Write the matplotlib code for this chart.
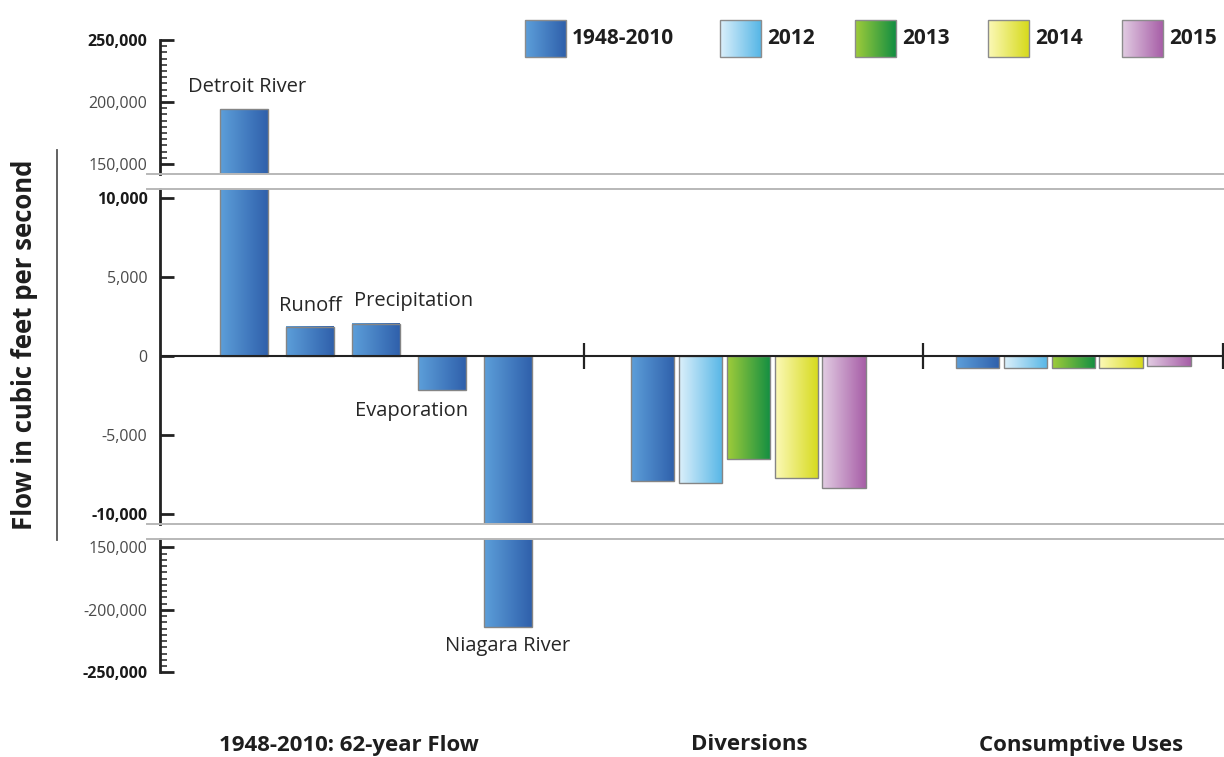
import numpy as np
import matplotlib
matplotlib.use('Agg')
import matplotlib.pyplot as plt
from matplotlib import transforms
from matplotlib.colors import LinearSegmentedColormap
from matplotlib.lines import Line2D
from matplotlib.patches import Rectangle

plt.rcParams['font.family'] = ['Open Sans', 'DejaVu Sans']

# flows into / out of the lake, cubic feet per second
flow_names = ['Detroit River', 'Runoff', 'Precipitation', 'Evaporation', 'Niagara River']
flow_values = [194000, 1850, 2060, -2150, -213500]

years = ['1948-2010', '2012', '2013', '2014', '2015']
diversions = [-7890, -8060, -6500, -7740, -8380]
consumptive = [-780, -780, -720, -720, -650]

group_titles = ['1948-2010: 62-year Flow', 'Diversions', 'Consumptive Uses']

# gradient (left, right) per series
year_colors = [('#5d9fda', '#2f60ab'), ('#dcf0fb', '#56b6e6'),
               ('#a0cc3a', '#128e42'), ('#fcf9b8', '#d6da1c'),
               ('#e2cde3', '#a75ea7')]

# x layout (one unit = one slot of the first group)
pos_flow = np.arange(len(flow_values))
pos_div = 6.19 + 0.726 * np.arange(len(years))
pos_con = 11.114 + 0.726 * np.arange(len(years))
w_flow, w_year = 0.727, 0.66
sep_x = [5.152, 10.288, 14.83]
xlim = (-84 / 66, 980 / 66)

W, H = 1224, 757
fig = plt.figure(figsize=(W / 100, H / 100), dpi=100)


def frac(py):
    return 1 - py / H


ax_top = fig.add_axes([160 / W, frac(174), 1 - 160 / W, (174 - 40) / H])
ax_mid = fig.add_axes([160 / W, frac(524), 1 - 160 / W, (524 - 189) / H])
ax_bot = fig.add_axes([160 / W, frac(672.3), 1 - 160 / W, (672.3 - 539) / H])
axes = [ax_top, ax_mid, ax_bot]


def gradient_bars(ax, xs, heights, width, colors):
    bars = ax.bar(xs, heights, width=width, facecolor='none',
                  edgecolor='#858585', linewidth=1.0, zorder=3)
    grad = np.linspace(0, 1, 256).reshape(1, -1)
    for b, (c0, c1) in zip(bars, colors):
        cmap = LinearSegmentedColormap.from_list('g', [c0, c1])
        x0, y0 = b.get_x(), b.get_y()
        ax.imshow(grad, cmap=cmap, aspect='auto', zorder=2,
                  extent=[x0, x0 + b.get_width(), min(y0, y0 + b.get_height()),
                          max(y0, y0 + b.get_height())])
    return bars


for ax in axes:
    gradient_bars(ax, pos_flow, flow_values, w_flow, [year_colors[0]] * len(flow_values))
    gradient_bars(ax, pos_div, diversions, w_year, year_colors)
    gradient_bars(ax, pos_con, consumptive, w_year, year_colors)
    ax.set_xlim(*xlim)
    for s in ['top', 'right', 'bottom']:
        ax.spines[s].set_visible(False)
    ax.spines['left'].set_linewidth(2)
    ax.spines['left'].set_color('#222222')
    ax.set_xticks([])
    ax.tick_params(axis='y', which='major', direction='in', length=10, width=2,
                   color='#222222', pad=9, labelsize=11.5, labelcolor='#4a4a4a')
    ax.tick_params(axis='y', which='minor', direction='in', length=5, width=1.2,
                   color='#333333')
    ax.patch.set_alpha(0)

ax_top.set_ylim(141940, 250000)
ax_mid.set_ylim(-10634, 10590)
ax_bot.set_ylim(-250000, -143360)

ax_top.set_yticks([150000, 200000, 250000])
ax_top.set_yticklabels(['150,000', '200,000', '250,000'])
ax_top.set_yticks(np.arange(150000, 250001, 5000), minor=True)
ax_mid.set_yticks([-10000, -5000, 0, 5000, 10000])
ax_mid.set_yticklabels(['-10,000', '-5,000', '0', '5,000', '10,000'])
ax_bot.set_yticks([-250000, -200000, -150000])
ax_bot.set_yticklabels(['-250,000', '-200,000', '150,000'])
ax_bot.set_yticks(np.arange(-250000, -149999, 5000), minor=True)

for lab in [ax_top.get_yticklabels()[-1], ax_mid.get_yticklabels()[0],
            ax_mid.get_yticklabels()[-1], ax_bot.get_yticklabels()[0]]:
    lab.set_fontweight('bold')
    lab.set_color('#1a1a1a')

# zero line with group separators
ax_mid.axhline(0, color='#222222', lw=1.5, zorder=4)
ax_mid.plot(sep_x, [0] * len(sep_x), ls='none', marker='|', ms=19, mew=1.6,
            color='#222222', zorder=5)

# bar names
txt = dict(fontsize=14.5, color='#262626', va='center')
ax_top.annotate(flow_names[0], (pos_flow[0], flow_values[0]), xytext=(2, 16.5),
                textcoords='offset points', ha='center', **txt)
ax_mid.annotate(flow_names[1], (pos_flow[1], flow_values[1]), xytext=(0, 15),
                textcoords='offset points', ha='center', **txt)
ax_mid.annotate(flow_names[2], (pos_flow[2], flow_values[2]), xytext=(27, 16),
                textcoords='offset points', ha='center', **txt)
ax_mid.annotate(flow_names[3], (pos_flow[3], flow_values[3]), xytext=(-22, -15),
                textcoords='offset points', ha='center', **txt)
ax_bot.annotate(flow_names[4], (pos_flow[4], flow_values[4]), xytext=(0, -14),
                textcoords='offset points', ha='center', **txt)

# group titles under the chart
tr = transforms.blended_transform_factory(ax_bot.transData, fig.transFigure)
for x, t in zip([1.59, 7.65, 12.68], group_titles):
    fig.text(x, frac(745), t, transform=tr, ha='center', va='center',
             fontsize=16, fontweight='bold', color='#1e1e1e')

fig.text(25 / W, frac(345), 'Flow in cubic feet per second', rotation=90,
         ha='center', va='center', fontsize=18.5, fontweight='bold', color='#1e1e1e')

# overlay in pixel units: axis breaks, label rule, legend
ov = fig.add_axes([0, 0, 1, 1])
ov.set_xlim(0, W)
ov.set_ylim(H, 0)
ov.axis('off')
for py in [174, 189, 524, 539]:
    ov.add_line(Line2D([147, W], [py, py], color='#b8b8b8', lw=1.4))
ov.add_line(Line2D([57, 57], [150, 540], color='#555555', lw=1.3))

grad = np.linspace(0, 1, 256).reshape(1, -1)
leg_x = [525, 720, 855, 988, 1122]
for x, name, (c0, c1) in zip(leg_x, years, year_colors):
    cmap = LinearSegmentedColormap.from_list('g', [c0, c1])
    ov.imshow(grad, cmap=cmap, aspect='auto', extent=[x, x + 41, 57, 20], zorder=2)
    ov.add_patch(Rectangle((x, 20), 41, 37, fill=False, ec='#8c8c8c', lw=1, zorder=3))
    ov.text(x + 47, 38, name, ha='left', va='center', fontsize=15,
            fontweight='bold', color='#1e1e1e')
ov.set_xlim(0, W)
ov.set_ylim(H, 0)

fig.savefig('out.png', dpi=100)
